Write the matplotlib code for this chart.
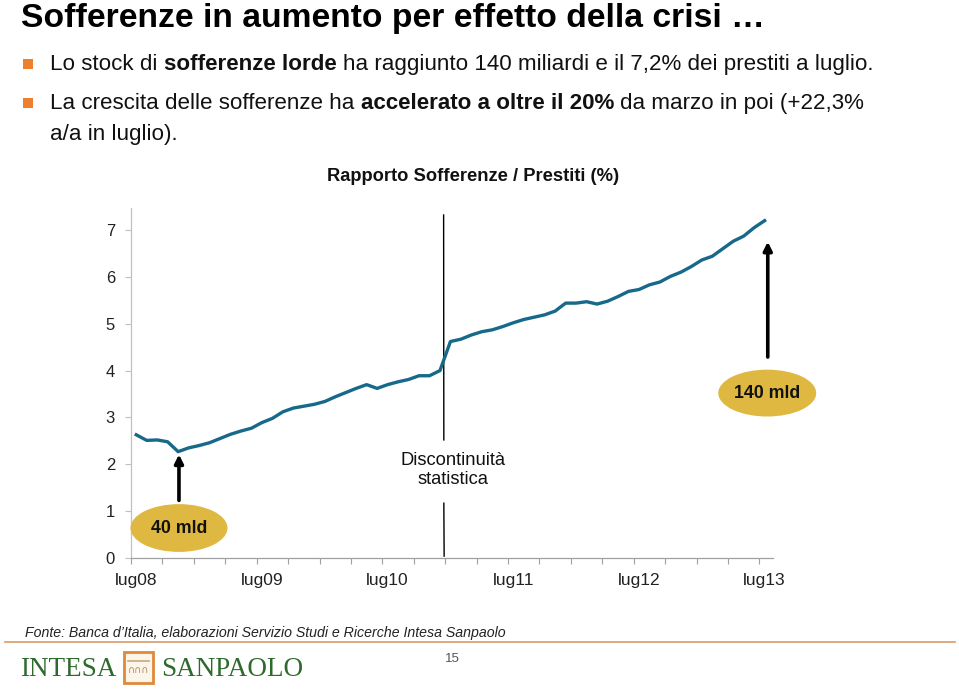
import numpy as np
import matplotlib
matplotlib.use("Agg")
import matplotlib.pyplot as plt
from matplotlib.patches import Ellipse, Rectangle

# ---------------- data ----------------
ratio = [2.63, 2.51, 2.52, 2.48, 2.27, 2.35, 2.40, 2.46, 2.55, 2.64,
         2.71, 2.77, 2.89, 2.98, 3.12, 3.20, 3.24, 3.28, 3.34, 3.44,
         3.53, 3.62, 3.70, 3.62, 3.70, 3.76, 3.81, 3.89, 3.89, 4.00,
         4.62, 4.67, 4.76, 4.83, 4.87, 4.94, 5.02, 5.09, 5.14, 5.19,
         5.27, 5.44, 5.44, 5.47, 5.42, 5.48, 5.58, 5.69, 5.73, 5.83,
         5.89, 6.01, 6.10, 6.22, 6.36, 6.44, 6.60, 6.76, 6.87, 7.05,
         7.20]
tick_labels = ["lug08", "lug09", "lug10", "lug11", "lug12", "lug13"]
yticks = [0, 1, 2, 3, 4, 5, 6, 7]

W, H = 959, 691
fig = plt.figure(figsize=(W / 100, H / 100), dpi=100)
fig.patch.set_facecolor("white")

SANS = ["Liberation Sans", "DejaVu Sans"]
SERIF = ["Liberation Serif", "DejaVu Serif"]

# overlay in pixel coordinates (y measured from top)
ov = fig.add_axes([0, 0, 1, 1], zorder=0)
ov.set_xlim(0, W)
ov.set_ylim(H, 0)
ov.axis("off")

renderer = fig.canvas.get_renderer()


def text_width(s, **kw):
    t = ov.text(0, 0, s, **kw)
    w = t.get_window_extent(renderer=renderer).width
    t.remove()
    return w


def rich_line(x, y, segments, size):
    space = text_width("a a", family=SANS, fontsize=size) - text_width("aa", family=SANS, fontsize=size)
    for txt, bold in segments:
        lead = len(txt) - len(txt.lstrip(" "))
        trail = len(txt) - len(txt.rstrip(" "))
        core = txt.strip(" ")
        x += lead * space
        t = ov.text(x, y, core, family=SANS, fontsize=size,
                    fontweight="bold" if bold else "normal", va="center", ha="left",
                    color="#111111")
        x += t.get_window_extent(renderer=renderer).width + trail * space


# title
ov.text(21, 27, "Sofferenze in aumento per effetto della crisi \u2026", family=SANS,
        fontsize=24.2, fontweight="bold", va="baseline", ha="left", color="#000000")

# bullets
orange = "#EE7F2D"
for yb in (64, 103):
    ov.add_patch(Rectangle((23, yb - 5), 10, 10, facecolor=orange, edgecolor="none"))
bsize = 16.1
rich_line(50, 64, [("Lo stock di ", False), ("sofferenze lorde", True),
                   (" ha raggiunto 140 miliardi e il 7,2% dei prestiti a luglio.", False)], bsize)
rich_line(50, 103, [("La crescita delle sofferenze ha ", False), ("accelerato a oltre il 20%", True),
                    (" da marzo in poi (+22,3%", False)], bsize)
rich_line(50, 134, [("a/a in luglio).", False)], bsize)

# chart title
ov.text(473, 176, "Rapporto Sofferenze / Prestiti (%)", family=SANS, fontsize=13.2,
        fontweight="bold", va="center", ha="center", color="#111111")

# footer
ov.text(25, 633, "Fonte: Banca d\u2019Italia, elaborazioni Servizio Studi e Ricerche Intesa Sanpaolo",
        family=SANS, fontsize=10.2, style="italic", va="center", ha="left", color="#222222")
ov.plot([5, 955], [642, 642], color="#D99A64", lw=1.2)
ov.text(452, 659, "15", family=SANS, fontsize=9.5, va="center", ha="center", color="#555555")

# logo
green = "#2E6A2C"
ov.text(20, 669, "INTESA", family=SERIF, fontsize=19.5, color=green, va="center", ha="left")
ov.text(161, 669, "SANPAOLO", family=SERIF, fontsize=19.5, color=green, va="center", ha="left")
ov.add_patch(Rectangle((124, 652), 29, 31, facecolor="#FBF5EA", edgecolor="#E0893A", lw=2))
ov.plot([128, 149], [661, 661], color="#C9A77A", lw=1.2)
ov.text(138.5, 670, "\u2229\u2229\u2229", family=["DejaVu Sans"], fontsize=7, color="#B08A60",
        ha="center", va="center")

# ---------------- chart ----------------
ax_left, ax_right = 131, 773
ax_bottom, ax_top = 558, 208
ax = fig.add_axes([ax_left / W, 1 - ax_bottom / H, (ax_right - ax_left) / W, (ax_bottom - ax_top) / H],
                  zorder=2)
ax.patch.set_alpha(0)
x = np.arange(len(ratio)) + 0.5
ax.plot(x, ratio, color="#17698A", lw=2.4, solid_joinstyle="round", zorder=3)

ax.set_xlim(0, 61.3)
ax.set_ylim(0, 7.47)
for s in ("top", "right"):
    ax.spines[s].set_visible(False)
ax.spines["left"].set_color("#C0C0C0")
ax.spines["bottom"].set_color("#A0A0A0")
ax.spines["left"].set_linewidth(0.9)
ax.spines["bottom"].set_linewidth(0.9)

ax.set_yticks(yticks)
ax.set_yticklabels([str(v) for v in yticks], family=SANS, fontsize=12, color="#222222")
ax.tick_params(axis="y", length=4.5, width=0.8, color="#C0C0C0", pad=7)

ax.set_xticks(np.arange(0, 61, 3), minor=True)
ax.set_xticks(np.arange(len(tick_labels)) * 12 + 0.5)
ax.set_xticklabels(tick_labels, family=SANS, fontsize=12.5, color="#222222")
ax.tick_params(axis="x", which="major", length=0, pad=11)
ax.tick_params(axis="x", which="minor", length=4, width=0.8, color="#A0A0A0")

# discontinuity line and label
ax.plot([29.85, 29.87], [7.32, 2.52], color="black", lw=1.0, clip_on=False)
ax.plot([29.87, 29.9], [1.17, 0.04], color="black", lw=1.0, clip_on=False)
ax.text(30.7, 1.88, "Discontinuit\u00e0\nstatistica", family=SANS, fontsize=13.2,
        ha="center", va="center", linespacing=1.1, color="#111111")

# arrows + ellipses
gold = "#DFB841"
ax.annotate("", xy=(4.58, 2.27), xytext=(4.58, 1.17),
            arrowprops=dict(arrowstyle="-|>,head_length=0.5,head_width=0.25", color="black", lw=2.6),
            annotation_clip=False)
ax.add_patch(Ellipse((4.58, 0.64), 9.26, 1.02, facecolor=gold, edgecolor="none", clip_on=False, zorder=4))
ax.text(4.58, 0.64, "40 mld", family=SANS, fontsize=12.8, fontweight="bold", ha="center",
        va="center", zorder=5, color="#111111")

ax.annotate("", xy=(60.8, 6.81), xytext=(60.8, 4.23),
            arrowprops=dict(arrowstyle="-|>,head_length=0.5,head_width=0.25", color="black", lw=2.6),
            annotation_clip=False)
ax.add_patch(Ellipse((60.75, 3.52), 9.35, 1.0, facecolor=gold, edgecolor="none", clip_on=False, zorder=4))
ax.text(60.75, 3.52, "140 mld", family=SANS, fontsize=12.8, fontweight="bold", ha="center",
        va="center", zorder=5, color="#111111")

fig.savefig("out.png", dpi=100)
